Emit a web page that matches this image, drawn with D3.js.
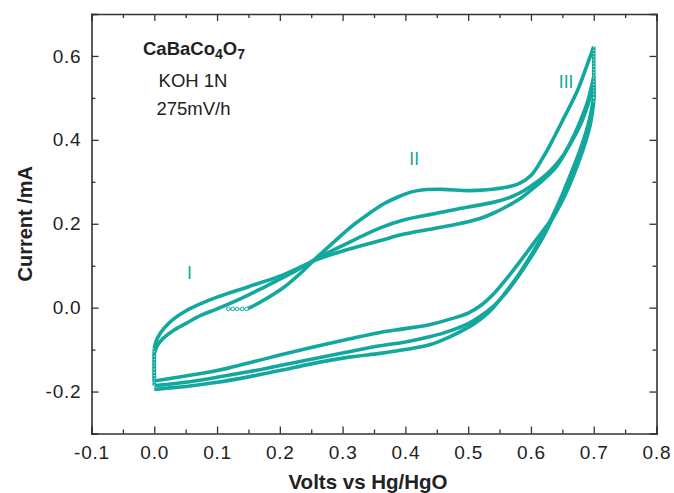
<!DOCTYPE html>
<meta charset="utf-8">
<script src="https://cdn.jsdelivr.net/npm/d3@7"></script>
<style>
  body { margin: 0; background: #fff; }
  text { font-family: "Liberation Sans", Arial, sans-serif; fill: #222; }
  .axis path, .axis line { stroke: #333; }
</style>
<body>
<div id="viz"></div>
<script>
// volts vs current (mA); three cycles
var startPts = [[0.118, -0.003], [0.125, -0.003], [0.132, -0.003], [0.140, -0.003], [0.147, -0.003]];

var anodic1 = [[0.148,-0.003],[0.17,0.014],[0.206,0.048],[0.23,0.078],[0.259,0.12],[0.285,0.155],
  [0.312,0.191],[0.34,0.222],[0.365,0.247],[0.39,0.265],[0.41,0.276],[0.43,0.281],[0.46,0.282],
  [0.5,0.279],[0.53,0.281],[0.56,0.287],[0.58,0.295],[0.6,0.315],[0.62,0.36],[0.634,0.398],
  [0.65,0.445],[0.674,0.517],[0.692,0.589],[0.7,0.622]];

var cathodic1 = [[0.7,0.49],[0.695,0.44],[0.688,0.40],[0.678,0.355],[0.665,0.305],[0.65,0.255],
  [0.635,0.215],[0.62,0.185],[0.6,0.145],[0.58,0.105],[0.56,0.067],[0.54,0.032],[0.52,0.005],
  [0.5,-0.013],[0.47,-0.028],[0.44,-0.04],[0.4,-0.05],[0.36,-0.059],[0.31,-0.075],[0.25,-0.095],
  [0.2,-0.113],[0.15,-0.132],[0.1,-0.15],[0.05,-0.163],[0.02,-0.17],[0,-0.175]];

var anodic2 = [[0,-0.098],[0.003,-0.08],[0.01,-0.06],[0.02,-0.042],[0.03,-0.028],[0.05,-0.008],
  [0.075,0.01],[0.1,0.025],[0.15,0.05],[0.2,0.075],[0.26,0.115],[0.3,0.135],[0.36,0.16],
  [0.4,0.176],[0.45,0.19],[0.5,0.205],[0.52,0.213],[0.54,0.225],[0.56,0.24],[0.58,0.257],
  [0.6,0.28],[0.62,0.305],[0.64,0.335],[0.655,0.37],[0.67,0.41],[0.68,0.44],[0.69,0.48],[0.7,0.53]];

var cathodic2 = [[0.7,0.50],[0.695,0.455],[0.688,0.415],[0.678,0.37],[0.665,0.32],[0.65,0.265],
  [0.635,0.215],[0.62,0.17],[0.6,0.12],[0.58,0.075],[0.56,0.035],[0.54,0.003],[0.52,-0.02],
  [0.5,-0.038],[0.47,-0.056],[0.44,-0.069],[0.4,-0.082],[0.36,-0.091],[0.31,-0.105],[0.25,-0.123],
  [0.2,-0.138],[0.15,-0.153],[0.1,-0.166],[0.05,-0.178],[0.02,-0.183],[0,-0.186]];

var anodic3 = [[0,-0.11],[0.005,-0.09],[0.015,-0.072],[0.03,-0.055],[0.05,-0.038],[0.075,-0.018],
  [0.1,-0.003],[0.137,0.021],[0.17,0.045],[0.2,0.068],[0.23,0.092],[0.26,0.118],[0.3,0.148],
  [0.36,0.19],[0.4,0.21],[0.45,0.225],[0.5,0.24],[0.53,0.248],[0.55,0.255],[0.57,0.265],
  [0.59,0.28],[0.61,0.30],[0.63,0.325],[0.65,0.36],[0.665,0.40],[0.68,0.45],[0.69,0.49],[0.7,0.55]];

var cathodic3 = [[0.7,0.50],[0.695,0.46],[0.688,0.42],[0.678,0.375],[0.665,0.325],[0.65,0.27],
  [0.635,0.22],[0.62,0.175],[0.6,0.125],[0.58,0.078],[0.56,0.037],[0.54,0.0],[0.52,-0.027],
  [0.5,-0.047],[0.47,-0.07],[0.44,-0.088],[0.4,-0.1],[0.36,-0.109],[0.31,-0.118],[0.25,-0.134],
  [0.2,-0.15],[0.15,-0.165],[0.1,-0.178],[0.05,-0.188],[0.02,-0.192],[0,-0.195]];

var xTicks = [-0.1, 0, 0.1, 0.2, 0.3, 0.4, 0.5, 0.6, 0.7, 0.8];
var yTicks = [-0.2, 0, 0.2, 0.4, 0.6];
var peakLabels = [["I", 0.056, 0.068], ["II", 0.414, 0.340], ["III", 0.656, 0.524]];

var width = 674, height = 493;
var teal = "#12a89d";
var mLeft = 91.5, mRight = 656.5, mTop = 14, mBottom = 433.5;

var x = d3.scaleLinear().domain([-0.1, 0.8]).range([mLeft, mRight]);
var y = d3.scaleLinear().domain([-0.3, 0.7]).range([mBottom, mTop]);
var fmt = d => d.toFixed(1);

var svg = d3.select("#viz").append("svg")
  .attr("width", width)
  .attr("height", height);

var minorX = d3.range(-0.05, 0.8, 0.1);
var minorY = d3.range(-0.3, 0.71, 0.2);

// bottom + left with labels, ticks pointing in
svg.append("g").attr("class", "axis")
  .attr("transform", "translate(0," + mBottom + ")")
  .call(d3.axisBottom(x).tickValues(xTicks).tickSize(-7).tickPadding(12).tickFormat(fmt))
  .call(g => g.select(".domain").attr("stroke-width", 1.6))
  .call(g => g.selectAll("text").attr("font-size", 19).attr("letter-spacing", 0.8).attr("fill", "#222"));

svg.append("g").attr("class", "axis")
  .attr("transform", "translate(0," + mBottom + ")")
  .call(d3.axisBottom(x).tickValues(minorX).tickSize(-4).tickFormat(""))
  .call(g => g.select(".domain").remove());

svg.append("g").attr("class", "axis")
  .attr("transform", "translate(" + mLeft + ",0)")
  .call(d3.axisLeft(y).tickValues(yTicks).tickSize(-7).tickPadding(10).tickFormat(fmt))
  .call(g => g.select(".domain").attr("stroke-width", 1.6))
  .call(g => g.selectAll("text").attr("font-size", 19).attr("letter-spacing", 0.8).attr("fill", "#222"));

svg.append("g").attr("class", "axis")
  .attr("transform", "translate(" + mLeft + ",0)")
  .call(d3.axisLeft(y).tickValues(minorY).tickSize(-4).tickFormat(""))
  .call(g => g.select(".domain").remove());

// top + right mirrored
svg.append("g").attr("class", "axis")
  .attr("transform", "translate(0," + mTop + ")")
  .call(d3.axisTop(x).tickValues(xTicks).tickSize(-7).tickFormat(""))
  .call(g => g.select(".domain").attr("stroke-width", 1.6));
svg.append("g").attr("class", "axis")
  .attr("transform", "translate(0," + mTop + ")")
  .call(d3.axisTop(x).tickValues(minorX).tickSize(-4).tickFormat(""))
  .call(g => g.select(".domain").remove());
svg.append("g").attr("class", "axis")
  .attr("transform", "translate(" + mRight + ",0)")
  .call(d3.axisRight(y).tickValues(yTicks).tickSize(-7).tickFormat(""))
  .call(g => g.select(".domain").attr("stroke-width", 1.6));
svg.append("g").attr("class", "axis")
  .attr("transform", "translate(" + mRight + ",0)")
  .call(d3.axisRight(y).tickValues(minorY).tickSize(-4).tickFormat(""))
  .call(g => g.select(".domain").remove());

svg.selectAll(".axis line").attr("stroke-width", 1.3);

// the trace, one path per sweep
var branches = [anodic1, cathodic1, anodic2, cathodic2, anodic3, cathodic3];
var line = d3.line().x(p => x(p[0])).y(p => y(p[1])).curve(d3.curveCatmullRom);
svg.selectAll("path.cv")
  .data(branches)
  .enter().append("path")
  .attr("class", "cv")
  .attr("fill", "none")
  .attr("stroke", teal)
  .attr("stroke-width", 3.6)
  .attr("stroke-linejoin", "round")
  .attr("d", line);

// vertical turnarounds at 0 V and 0.7 V
var turns = [];
for (var k = 0; k < branches.length - 1; k++) {
  turns.push([branches[k][branches[k].length - 1], branches[k + 1][0]]);
}
turns.forEach(function(t) {
  var lo = Math.min(t[0][1], t[1][1]), hi = Math.max(t[0][1], t[1][1]);
  svg.append("line")
    .attr("x1", x(t[0][0])).attr("x2", x(t[0][0]))
    .attr("y1", y(lo)).attr("y2", y(hi))
    .attr("stroke", teal).attr("stroke-width", 3.6);
  svg.append("line")
    .attr("x1", x(t[0][0])).attr("x2", x(t[0][0]))
    .attr("y1", y(lo)).attr("y2", y(hi))
    .attr("stroke", "#fff").attr("stroke-width", 1)
    .attr("stroke-dasharray", "1,2.2");
});

// start markers
svg.append("path")
  .attr("fill", "none").attr("stroke", teal).attr("stroke-width", 1)
  .attr("d", d3.line().x(d => x(d[0])).y(d => y(d[1]))(startPts));
svg.selectAll("circle.start")
  .data(startPts)
  .enter().append("circle")
  .attr("cx", d => x(d[0]))
  .attr("cy", d => y(d[1]))
  .attr("r", 1.8)
  .attr("fill", "#fff")
  .attr("stroke", teal)
  .attr("stroke-width", 1);

// peak labels
svg.selectAll("text.peak")
  .data(peakLabels)
  .enter().append("text")
  .attr("x", d => x(d[1]))
  .attr("y", d => y(d[2]))
  .attr("text-anchor", "middle")
  .attr("font-size", 17.5)
  .style("fill", teal)
  .text(d => d[0]);

// sample notes
var note = svg.append("text").attr("x", 143).attr("y", 55)
  .attr("font-size", 18.5).attr("font-weight", "bold");
note.append("tspan").text("CaBaCo");
note.append("tspan").attr("dy", 4).attr("font-size", 14).text("4");
note.append("tspan").attr("dy", -4).text("O");
note.append("tspan").attr("dy", 4).attr("font-size", 14).text("7");

svg.append("text").attr("x", 193).attr("y", 86.5).attr("text-anchor", "middle")
  .attr("font-size", 18.5).text("KOH 1N");
svg.append("text").attr("x", 193.5).attr("y", 115).attr("text-anchor", "middle")
  .attr("font-size", 18.5).text("275mV/h");

// axis titles
svg.append("text").attr("x", 368).attr("y", 489)
  .attr("text-anchor", "middle").attr("font-size", 20.5).attr("font-weight", "bold")
  .text("Volts vs Hg/HgO");
svg.append("text")
  .attr("transform", "translate(32," + ((mTop + mBottom) / 2) + ") rotate(-90)")
  .attr("text-anchor", "middle").attr("font-size", 20).attr("font-weight", "bold")
  .text("Current /mA");
</script>
